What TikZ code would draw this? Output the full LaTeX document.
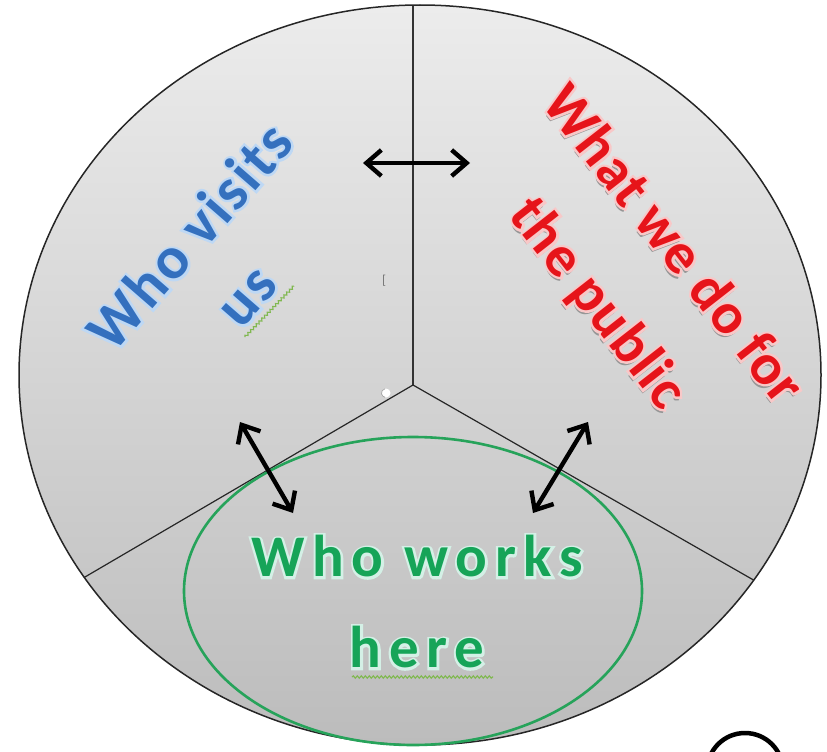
\documentclass[tikz,border=0pt]{standalone}
\usepackage{fontspec}
\setmainfont{Carlito}
\newfontfamily\bluef[LetterSpace=4]{Carlito Bold}
\newfontfamily\blueg[LetterSpace=4,FakeBold=8]{Carlito Bold}
\newfontfamily\redf[LetterSpace=2]{Carlito Bold}
\newfontfamily\redg[LetterSpace=2,FakeBold=8]{Carlito Bold}
\newfontfamily\greenf[LetterSpace=13]{Carlito Bold}
\newfontfamily\greeng[LetterSpace=13,FakeBold=8]{Carlito Bold}
\usetikzlibrary{arrows.meta,decorations.pathmorphing}
\definecolor{bgtop}{RGB}{236,236,236}
\definecolor{bgbot}{RGB}{188,188,188}
\definecolor{bluetext}{RGB}{52,112,190}
\definecolor{blueglow}{RGB}{190,216,244}
\definecolor{redtext}{RGB}{230,20,26}
\definecolor{redglow}{RGB}{248,200,200}
\definecolor{redshadow}{RGB}{150,150,150}
\definecolor{greentext}{RGB}{22,164,88}
\definecolor{greenglow}{RGB}{212,240,230}
\definecolor{greenline}{RGB}{38,163,90}
\definecolor{wavy}{RGB}{128,184,80}
\newcommand\bluetxt[1]{\leavevmode\rlap{\blueg\color{blueglow}#1}{\bluef\color{bluetext}#1}}
\newcommand\redtxt[1]{\leavevmode\rlap{\kern3pt\raise-3pt\hbox{\redf\color{redshadow}#1}}\rlap{\redg\color{redglow}#1}{\redf\color{redtext}#1}}
\newcommand\greentxt[1]{\leavevmode\rlap{\greeng\color{greenglow}#1}{\greenf\color{greentext}#1}}
\tikzset{
  spoke/.style={draw=black!85, line width=1.2pt},
  vspoke/.style={draw=black!80, line width=1.8pt},
  biarrow/.style={line width=4.4pt, black, {Straight Barb[length=15pt,width=26pt]}-{Straight Barb[length=15pt,width=26pt]}},
  squiggle/.style={draw=wavy, line width=1.1pt, decorate, decoration={snake, segment length=4pt, amplitude=1.2pt}},
  lbl/.style={inner sep=0pt, align=center}
}
\begin{document}
\begin{tikzpicture}[x=1pt,y=-1pt]
\useasboundingbox (0,0) rectangle (827,752);
\coordinate (C) at (420,375);
\coordinate (V) at (413,385);
% disc
\shade[top color=bgtop, bottom color=bgbot] (C) ellipse [x radius=401, y radius=370];
\begin{scope}
  \clip (C) ellipse [x radius=401, y radius=370];
  \draw[vspoke] (V) -- ++(0,-420);
  \draw[spoke] (V) -- ++(-394,230.6);
  \draw[spoke] (V) -- ++(404.4,231.6);
\end{scope}
\draw[black!85, line width=1.5pt] (C) ellipse [x radius=401, y radius=370];
% green ellipse
\draw[greenline, line width=2.6pt] (413,591) ellipse [x radius=229, y radius=154];
% small marks
\node[inner sep=0pt, text=black!55, font=\fontsize{13}{13}\selectfont] (brk) at (384,281) {[};
\fill[white] (386,393) circle [radius=4.5];
\draw[black!35, line width=0.7pt] (386,393) ++(-1,-4.2) arc [start angle=-100, end angle=-260, radius=4.3];
% labels
\node[lbl, rotate=49, font=\fontsize{60}{80}\selectfont] (visits) at (189,236) {\bluetxt{Who visits}};
\node[lbl, rotate=49, font=\fontsize{60}{80}\selectfont] (us) at (250,299) {\bluetxt{us}};
\node[lbl, rotate=-52, font=\fontsize{58}{95}\selectfont] (public) at (633,276)
  {\redtxt{What we do for}\\\redtxt{the public}};
\node[lbl, font=\fontsize{59}{91}\selectfont] (works) at (417,602)
  {\greentxt{Who works}\\\greentxt{here}};
% spelling squiggles
\coordinate (us1) at (245,337);
\coordinate (us2) at (294,286);
\draw[squiggle] (us1) -- (us2);
\coordinate (he1) at (352,677);
\coordinate (he2) at (493,677);
\draw[squiggle] (he1) -- (he2);
% arrows
\coordinate (t1) at (363,163);
\coordinate (t2) at (470,163);
\coordinate (l1) at (240,422);
\coordinate (l2) at (293,513);
\coordinate (r1) at (588,422);
\coordinate (r2) at (533,513);
\draw[biarrow] (t1) -- (t2);
\draw[biarrow] (l1) -- (l2);
\draw[biarrow] (r1) -- (r2);
% partial ring at bottom right
\begin{scope}
  \clip (0,0) rectangle (827,752);
  \draw[black, line width=4.5pt] (745,771) circle [radius=38];
\end{scope}
\end{tikzpicture}
\end{document}
